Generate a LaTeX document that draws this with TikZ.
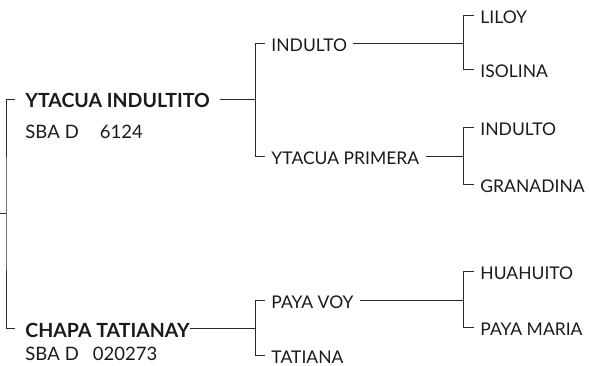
\documentclass[tikz,border=0pt]{standalone}
\usepackage{fontspec}
\setmainfont{Lato}
\definecolor{txt}{HTML}{1A1A1A}
\definecolor{linec}{HTML}{2A2A2A}
\begin{document}
\begin{tikzpicture}[x=1pt,y=-1pt,line width=0.9pt,
  nm/.style={anchor=west,inner ysep=0pt,inner xsep=6pt,text=txt,
    font=\fontsize{17.5}{20}\selectfont,text height=17pt,text depth=0pt},
  bnm/.style={nm,inner xsep=10pt,font=\fontsize{19.5}{22}\selectfont\bfseries,text height=18pt},
  sub/.style={nm,inner xsep=0pt,font=\fontsize{18.5}{21}\selectfont},
  conn/.style={draw=linec,line width=0.9pt}]
\useasboundingbox (0,0) rectangle (589,366);
% names
\node[bnm] (a) at (15,99) {YTACUA INDULTITO};
\node[sub] (asub) at (25,130) {SBA\hspace{5pt}D\hspace{21pt}6124};
\node[bnm] (b) at (15,328) {CHAPA TATIANAY};
\node[sub] (bsub) at (25,352) {SBA\hspace{5pt}D\hspace{14pt}020273};
\node[nm] (aa) at (265,43) {INDULTO};
\node[nm] (ab) at (265,156) {YTACUA PRIMERA};
\node[nm] (ba) at (265,300) {PAYA VOY};
\node[nm] (bb) at (265,355) {TATIANA};
\node[nm] (aaa) at (474,15) {LILOY};
\node[nm] (aab) at (474,69) {ISOLINA};
\node[nm] (aba) at (474,127) {INDULTO};
\node[nm] (abb) at (474,184) {GRANADINA};
\node[nm] (baa) at (474,271) {HUAHUITO};
\node[nm] (bab) at (474,327) {PAYA MARIA};
% junctions
\coordinate (root) at (0,213.5);
\coordinate (j0) at (6,0);
\coordinate (j1) at (255,0);
\coordinate (j2) at (463,0);
% connectors
\draw[conn] (a.west) -| (j0 |- root) |- (b.west);
\draw[conn] (root) -- (j0 |- root);
\draw[conn] (aa.west) -| (j1 |- ab) -- (ab.west);
\draw[conn] (a.east) -- (a.east -| j1);
\draw[conn] (ba.west) -| (j1 |- bb) -- (bb.west);
\draw[conn] ([xshift=-10pt]b.east) -- (b.east -| j1);
\draw[conn] (aaa.west) -| (j2 |- aab) -- (aab.west);
\draw[conn] (aa.east) -- (aa.east -| j2);
\draw[conn] (aba.west) -| (j2 |- abb) -- (abb.west);
\draw[conn] (ab.east) -- (ab.east -| j2);
\draw[conn] (baa.west) -| (j2 |- bab) -- (bab.west);
\draw[conn] (ba.east) -- (ba.east -| j2);
\end{tikzpicture}
\end{document}
